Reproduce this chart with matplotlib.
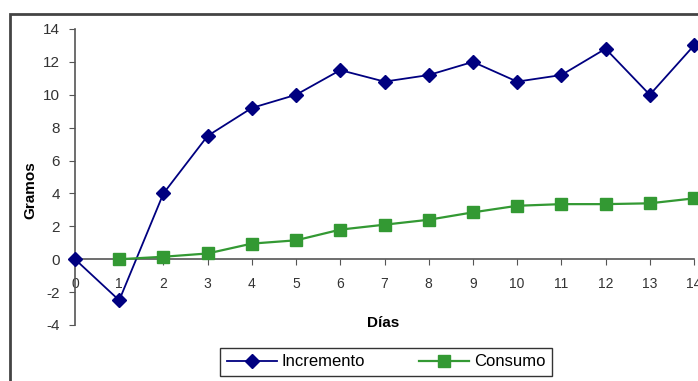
import matplotlib.pyplot as plt
from matplotlib.patches import Rectangle

plt.rcParams['font.family'] = ['Liberation Sans', 'DejaVu Sans']
plt.rcParams['axes.unicode_minus'] = False

dias = list(range(15))
incremento = [0, -2.5, 4.0, 7.5, 9.2, 10.0, 11.5, 10.8, 11.2, 12.0, 10.8, 11.2, 12.8, 10.0, 13.0]
dias_consumo = list(range(1, 15))
consumo = [0.0, 0.15, 0.35, 0.95, 1.15, 1.8, 2.1, 2.4, 2.85, 3.25, 3.35, 3.35, 3.4, 3.7]
y_ticks = [-4, -2, 0, 2, 4, 6, 8, 10, 12, 14]

W, H = 698, 381
fig = plt.figure(figsize=(W / 100, H / 100), dpi=100)

# outer chart border (runs off the right and bottom edges)
fig.patches.append(Rectangle((10 / W, -0.05), 1.0, 1 - 14 / H + 0.05,
                             transform=fig.transFigure, fill=False,
                             edgecolor='#444444', linewidth=2))

ax = fig.add_axes([75 / W, 1 - 325 / H, 619 / W, (325 - 29) / H])

ax.plot(dias, incremento, color='#000080', marker='D', markersize=7,
        linewidth=1.3, label='Incremento', clip_on=False, zorder=3)
ax.plot(dias_consumo, consumo, color='#339933', marker='s', markersize=8,
        linewidth=1.6, label='Consumo', clip_on=False, zorder=3)

ax.set_xlim(0, 14)
ax.set_ylim(-4, 14)
ax.set_xticks(dias)
ax.set_yticks(y_ticks)

ax.spines['top'].set_visible(False)
ax.spines['right'].set_visible(False)
ax.spines['bottom'].set_position(('data', 0))
for s in ('left', 'bottom'):
    ax.spines[s].set_color('#555555')
    ax.spines[s].set_linewidth(1.2)

ax.tick_params(axis='y', direction='out', length=4, pad=7, labelsize=11,
               color='#555555', labelcolor='#333333')
ax.tick_params(axis='x', direction='out', length=4, pad=9, labelsize=10,
               color='#555555', labelcolor='#333333')

fig.text(383 / W, 1 - 323 / H, 'Días', ha='center', va='center',
         fontsize=11, fontweight='bold')
fig.text(30 / W, 1 - 190 / H, 'Gramos', ha='center', va='center',
         rotation=90, fontsize=11, fontweight='bold')

leg = fig.legend(loc='center', bbox_to_anchor=(386 / W, 1 - 362 / H), ncol=2,
                 fontsize=12, frameon=True, fancybox=False, edgecolor='black',
                 handlelength=3.0, columnspacing=3.2, handletextpad=0.3,
                 borderpad=0.4)
leg.get_frame().set_linewidth(1.0)

fig.savefig('out.png', dpi=100)
